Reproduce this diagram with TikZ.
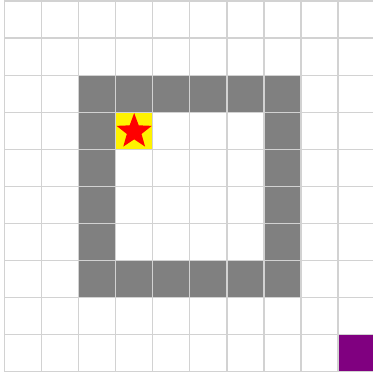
\documentclass[tikz,border=0pt]{standalone}
\usetikzlibrary{shapes.geometric}

\definecolor{wallgray}{RGB}{128,128,128}
\definecolor{gridgray}{RGB}{210,210,210}
\definecolor{goalpurple}{RGB}{128,0,128}

\tikzset{
    wall/.style={fill=wallgray},
    cellbox/.style={minimum size=1cm, inner sep=0pt, outer sep=0pt}
}

\begin{document}
\begin{tikzpicture}
    \useasboundingbox (-0.12,-0.06) rectangle (9.93,10.03);

    % walls of the room
    \foreach \i in {2,...,7} {
        \fill[wall] (\i,7) rectangle ++(1,1);
        \fill[wall] (\i,2) rectangle ++(1,1);
    }
    \foreach \j in {3,...,6} {
        \fill[wall] (2,\j) rectangle ++(1,1);
        \fill[wall] (7,\j) rectangle ++(1,1);
    }

    \node[cellbox, fill=yellow] (start) at (3.5,6.5) {};
    \node[cellbox, fill=goalpurple] (goal) at (9.5,0.5) {};

    \draw[gridgray, line width=1.1pt] (0,0) grid (10,10);

    \node[star, star points=5, star point ratio=2.4, fill=red, inner sep=0pt,
          minimum size=1.0cm] (agent) at ([yshift=-0.02cm]start) {};
\end{tikzpicture}
\end{document}
